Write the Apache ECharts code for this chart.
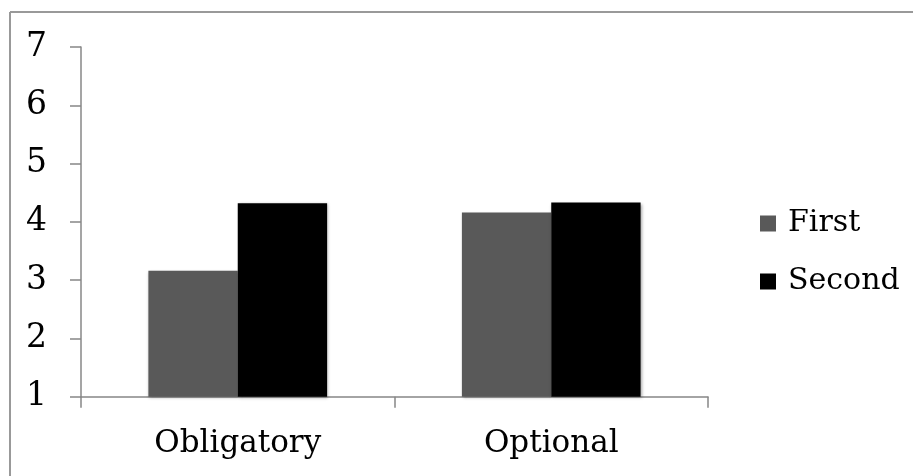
<!DOCTYPE html>
<html>
<head>
<meta charset="utf-8">
<script src="https://cdn.jsdelivr.net/npm/echarts@6/dist/echarts.min.js"></script>
<style>
html,body{margin:0;padding:0;background:#fff;}
#chart{width:913px;height:476px;}
</style>
</head>
<body>
<div id="chart"></div>
<script>
var categories = ['Obligatory', 'Optional'];
var seriesNames = ['First', 'Second'];
var firstValues = [3.16, 4.16];
var secondValues = [4.32, 4.33];
var yTicks = [1, 2, 3, 4, 5, 6, 7];

var FONT = 'DejaVu Serif';
var chart = echarts.init(document.getElementById('chart'), null, {renderer: 'canvas'});
var axisColor = '#878787';
var barShadow = {shadowBlur: 3, shadowOffsetX: 1, shadowOffsetY: 1, shadowColor: 'rgba(0,0,0,0.35)'};

chart.setOption({
  animation: false,
  backgroundColor: '#ffffff',
  textStyle: {fontFamily: FONT},
  graphic: [
    {type: 'line', shape: {x1: 10, y1: 12, x2: 913, y2: 12}, style: {stroke: '#999', lineWidth: 2}, silent: true},
    {type: 'line', shape: {x1: 10, y1: 12, x2: 10, y2: 476}, style: {stroke: '#999', lineWidth: 2}, silent: true}
  ],
  grid: {left: 81, right: 205, top: 47, bottom: 79.3, containLabel: false},
  legend: {
    orient: 'vertical',
    left: 755,
    top: 203,
    itemWidth: 16,
    itemHeight: 16,
    itemGap: 27,
    icon: 'rect',
    data: seriesNames,
    textStyle: {fontFamily: FONT, fontSize: 30, lineHeight: 31, color: '#000', padding: [0, 0, 0, 7]}
  },
  xAxis: {
    type: 'category',
    data: categories,
    axisLine: {lineStyle: {color: axisColor, width: 1.5}},
    axisTick: {show: true, length: 11, lineStyle: {color: axisColor, width: 1.5}},
    axisLabel: {fontFamily: FONT, fontSize: 31, lineHeight: 31, color: '#000', margin: 32}
  },
  yAxis: {
    type: 'value',
    min: yTicks[0],
    max: yTicks[yTicks.length - 1],
    interval: 1,
    splitLine: {show: false},
    axisLine: {show: true, lineStyle: {color: axisColor, width: 1.5}},
    axisTick: {show: true, length: 11, lineStyle: {color: axisColor, width: 1.5}},
    axisLabel: {fontFamily: FONT, fontSize: 33, color: '#000', margin: 34}
  },
  series: [
    {name: seriesNames[0], type: 'bar', data: firstValues, barGap: '0%', barCategoryGap: '43%',
     itemStyle: Object.assign({color: '#595959'}, barShadow)},
    {name: seriesNames[1], type: 'bar', data: secondValues, barGap: '0%', barCategoryGap: '43%',
     itemStyle: Object.assign({color: '#000000'}, barShadow)}
  ]
});
</script>
</body>
</html>
